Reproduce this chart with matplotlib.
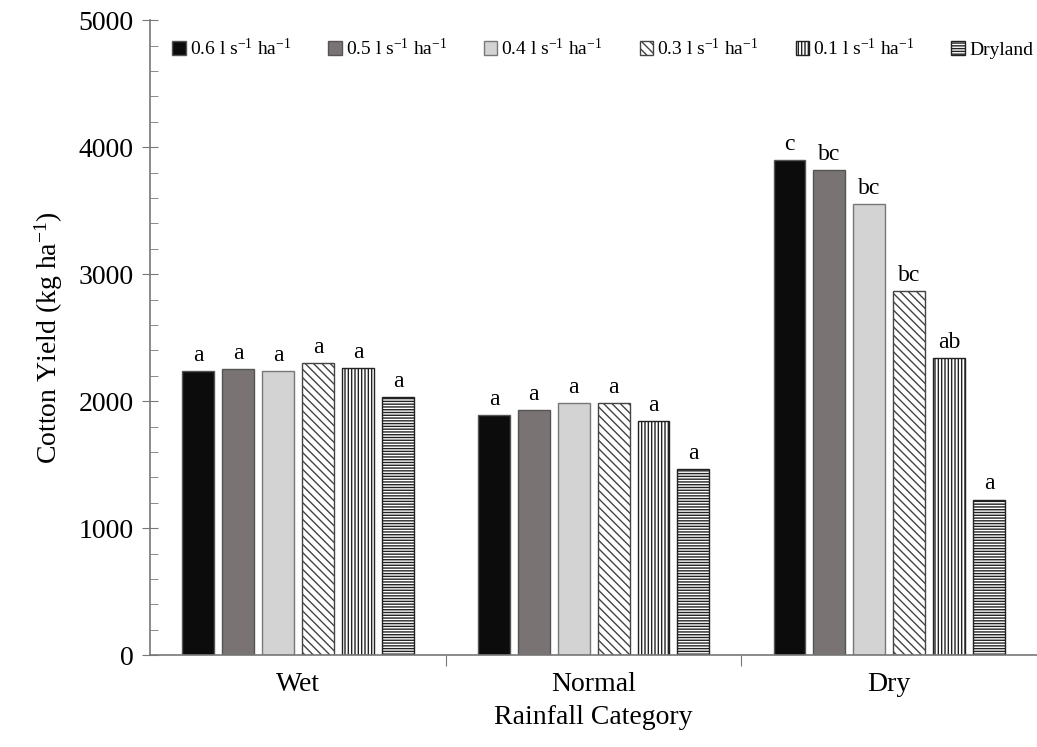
import matplotlib.pyplot as plt
import numpy as np

plt.rcParams['font.family'] = ['Liberation Serif', 'DejaVu Serif']
plt.rcParams['mathtext.fontset'] = 'custom'
plt.rcParams['mathtext.rm'] = 'Liberation Serif'
plt.rcParams['mathtext.it'] = 'Liberation Serif:italic'
plt.rcParams['mathtext.default'] = 'rm'
plt.rcParams['hatch.linewidth'] = 1.0

categories = ['Wet', 'Normal', 'Dry']
series = ['0.6 l s$^{−1}$ ha$^{−1}$', '0.5 l s$^{−1}$ ha$^{−1}$', '0.4 l s$^{−1}$ ha$^{−1}$',
          '0.3 l s$^{−1}$ ha$^{−1}$', '0.1 l s$^{−1}$ ha$^{−1}$', 'Dryland']
yield_06 = [2240, 1890, 3900]
yield_05 = [2250, 1930, 3820]
yield_04 = [2235, 1985, 3555]
yield_03 = [2300, 1985, 2870]
yield_01 = [2260, 1840, 2340]
yield_dry = [2030, 1465, 1225]
letters = [
    ['a', 'a', 'c'],
    ['a', 'a', 'bc'],
    ['a', 'a', 'bc'],
    ['a', 'a', 'bc'],
    ['a', 'a', 'ab'],
    ['a', 'a', 'a'],
]
values = [yield_06, yield_05, yield_04, yield_03, yield_01, yield_dry]

faces = ['#0c0c0c', '#7a7373', '#d3d3d3', 'white', 'white', 'white']
edges = ['#555555', '#555555', '#777777', '#444444', '#222222', '#222222']
hatches = [None, None, None, '\\\\\\\\', '|||||', '------']

fig = plt.figure(figsize=(10.37, 7.47), dpi=100)
ax = fig.add_axes([0.145, 0.123, 0.855, 0.85])

x = np.arange(len(categories))
step = 0.135
width = 0.108
for i, vals in enumerate(values):
    pos = x + (i - 2.5) * step
    bars = ax.bar(pos, vals, width, color=faces[i], edgecolor=edges[i],
                  hatch=hatches[i], linewidth=1.0, label=series[i])
    for b, v, t in zip(bars, vals, letters[i]):
        ax.text(b.get_x() + b.get_width() / 2, v + 40, t, ha='center', va='bottom',
                fontsize=17)

ax.set_xlim(-0.5, 2.5)
ax.set_ylim(0, 5000)
ax.set_yticks(np.arange(0, 5001, 1000))
ax.set_yticks(np.arange(0, 5001, 200), minor=True)
ax.set_xticks([0.5, 1.5])
ax.set_xticklabels([])
ax.set_xticks(x, minor=True)
ax.set_xticklabels(categories, minor=True, fontsize=20)
ax.tick_params(axis='x', which='major', direction='out', length=8, color='#777777')
ax.tick_params(axis='x', which='minor', length=0, pad=12)
ax.tick_params(axis='y', which='major', direction='inout', length=12, labelsize=20,
               color='#777777', pad=6)
ax.tick_params(axis='y', which='minor', direction='in', length=6, color='#777777')

for s in ['top', 'right']:
    ax.spines[s].set_visible(False)
for s in ['left', 'bottom']:
    ax.spines[s].set_color('#777777')
    ax.spines[s].set_linewidth(1.2)

ax.set_ylabel('Cotton Yield (kg ha$^{-1}$)', fontsize=20, labelpad=10)
ax.set_xlabel('Rainfall Category', fontsize=20, labelpad=6)

ax.legend(loc='upper center', ncol=6, frameon=False, fontsize=14,
          handlelength=0.7, handleheight=0.7, handletextpad=0.2, columnspacing=1.9,
          bbox_to_anchor=(0.51, 1.0))

plt.savefig('out.png', dpi=100)
